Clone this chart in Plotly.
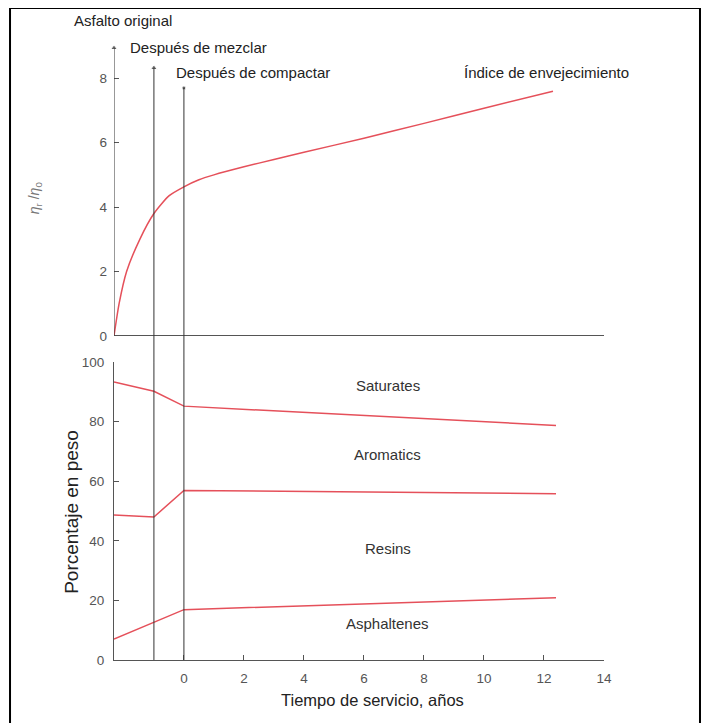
import plotly.graph_objects as go

# ---------------- data ----------------
# aging index (top panel)
index_x = [-2.33, -2.16, -1.91, -1.47, -1.0, -0.5, 0.0, 0.5, 1.0, 2.0, 3.0, 4.0, 6.0, 8.0, 10.0, 12.3]
index_y = [0.0, 1.0, 2.0, 3.0, 3.8, 4.35, 4.63, 4.85, 5.0, 5.25, 5.48, 5.7, 6.14, 6.6, 7.07, 7.6]

# composition boundaries (bottom panel)
comp_x = [-2.33, -1.0, 0.0, 12.4]
sat_arom = [93.3, 90.2, 85.2, 78.7]
arom_res = [48.7, 48.0, 56.9, 55.8]
res_asph = [7.0, 12.5, 16.9, 20.9]

# event markers (vertical lines)
event_x = [-2.33, -1.0, 0.0]
event_top = [8.94, 8.32, 7.70]
event_symbol = ["triangle-up", "triangle-up", "circle"]
event_names = ["Asfalto original", "Después de mezclar", "Después de compactar"]
event_label_x = [-2.03, 0.5, 2.3]

fraction_names = ["Saturates", "Aromatics", "Resins", "Asphaltenes"]
fraction_y = [92.0, 69.0, 37.5, 12.2]
fraction_label_x = 6.8

x_ticks = [0, 2, 4, 6, 8, 10, 12, 14]
top_ticks = [0, 2, 4, 6, 8]
bottom_ticks = [0, 20, 40, 60, 80, 100]

# ---------------- layout constants ----------------
RED = "#e5505a"
AX = "#555555"
FONT = "Liberation Sans, Arial, sans-serif"
X_RANGE = [-2.33, 14]
TOP_RANGE = [-0.81, 8.94]
BOT_RANGE = [0, 100]
LABEL_PAPER_Y = [1.0322, 0.9887, 0.9468]

fig = go.Figure()

# top panel curve
fig.add_trace(go.Scatter(x=index_x, y=index_y, mode="lines",
                         line=dict(color=RED, width=1.5, shape="spline", smoothing=0.6),
                         xaxis="x2", yaxis="y2", showlegend=False, hoverinfo="skip"))

# bottom panel curves
for ys in (sat_arom, arom_res, res_asph):
    fig.add_trace(go.Scatter(x=comp_x, y=ys, mode="lines", line=dict(color=RED, width=1.5),
                             xaxis="x", yaxis="y", showlegend=False, hoverinfo="skip"))

# event arrow heads
fig.add_trace(go.Scatter(x=event_x, y=event_top, mode="markers",
                         marker=dict(symbol=event_symbol, size=[6, 6, 4], color="#222"),
                         xaxis="x2", yaxis="y2", showlegend=False, hoverinfo="skip", cliponaxis=False))

shapes = []
for ex, et in zip(event_x, event_top):
    y0 = 0 if ex == event_x[0] else TOP_RANGE[0]
    shapes.append(dict(type="line", xref="x2", yref="y2", x0=ex, x1=ex, y0=y0, y1=et,
                       line=dict(color="#333", width=1)))
    if ex != event_x[0]:
        shapes.append(dict(type="line", xref="x", yref="y", x0=ex, x1=ex, y0=BOT_RANGE[0], y1=BOT_RANGE[1],
                           line=dict(color="#333", width=1)))

# frame around whole picture
shapes.append(dict(type="rect", xref="paper", yref="paper", x0=-0.2122, x1=1.1959, y0=-0.105, y1=1.0516,
                   line=dict(color="black", width=2), fillcolor="rgba(0,0,0,0)"))

annotations = []
for name, lx, ly in zip(event_names, event_label_x, LABEL_PAPER_Y):
    annotations.append(dict(text=name, x=lx, y=ly, xref="x2", yref="paper", showarrow=False,
                            xanchor="center", yanchor="middle",
                            font=dict(family=FONT, size=15, color="#222")))
annotations.append(dict(text="Índice de envejecimiento", x=12.1, y=LABEL_PAPER_Y[2], xref="x2", yref="paper",
                        showarrow=False, xanchor="center", yanchor="middle",
                        font=dict(family=FONT, size=15, color="#222")))
for name, fy in zip(fraction_names, fraction_y):
    annotations.append(dict(text=name, x=fraction_label_x, y=fy, xref="x", yref="y", showarrow=False,
                            xanchor="center", yanchor="middle",
                            font=dict(family=FONT, size=15, color="#333")))
# top-panel y label
annotations.append(dict(text="<i>η</i><sub>r</sub> /<i>η</i><sub>0</sub>", x=-0.161, y=0.745,
                        xref="paper", yref="paper", showarrow=False, textangle=-90,
                        xanchor="center", yanchor="middle",
                        font=dict(family=FONT, size=14, color="#777")))
# bottom-panel y label
annotations.append(dict(text="Porcentaje en peso", x=-0.0857, y=0.239, xref="paper", yref="paper",
                        showarrow=False, textangle=-90, xanchor="center", yanchor="middle",
                        font=dict(family=FONT, size=19, color="#222")))
# x label
annotations.append(dict(text="Tiempo de servicio, años", x=0.527, y=-0.0645, xref="paper", yref="paper",
                        showarrow=False, xanchor="center", yanchor="middle",
                        font=dict(family=FONT, size=16.5, color="#222")))

axis_common = dict(showgrid=False, linecolor=AX, linewidth=1, ticks="inside", ticklen=5, tickcolor=AX,
                   tickfont=dict(family=FONT, size=13.5, color=AX))

fig.update_layout(
    width=709, height=723,
    margin=dict(l=106, r=113, t=32, b=71),
    paper_bgcolor="white", plot_bgcolor="white",
    shapes=shapes, annotations=annotations,
    xaxis=dict(domain=[0, 1], range=X_RANGE, tickvals=x_ticks, showline=True, zeroline=False,
               anchor="y", ticklabelstandoff=6, **axis_common),
    yaxis=dict(domain=[0, 0.4806], range=BOT_RANGE, tickvals=bottom_ticks, showline=True, zeroline=False,
               anchor="x", ticklabelstandoff=6, **axis_common),
    xaxis2=dict(domain=[0, 1], range=X_RANGE, showticklabels=False, ticks="", showline=False, showgrid=False,
                zeroline=False, anchor="y2", matches="x"),
    yaxis2=dict(domain=[0.4806, 0.9871], range=TOP_RANGE, tickvals=top_ticks, showline=False, zeroline=True,
                zerolinecolor=AX, zerolinewidth=1, anchor="x2", ticklabelstandoff=6,
                showgrid=False, ticks="inside", ticklen=5, tickcolor=AX,
                tickfont=dict(family=FONT, size=13.5, color=AX)),
)

fig.write_html("out.html")
